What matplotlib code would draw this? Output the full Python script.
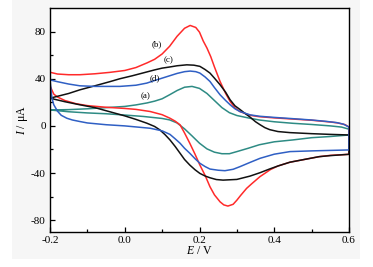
import matplotlib.pyplot as plt
from matplotlib.patches import Rectangle

# potential (V) and current (uA)
# each curve: forward scan -0.2 -> 0.6, then reverse scan 0.6 -> -0.2
E_a = [-0.2, -0.15, -0.1, -0.05, 0.0, 0.03, 0.06, 0.08, 0.1, 0.12, 0.14, 0.16, 0.18, 0.2, 0.22, 0.24,
       0.26, 0.28, 0.3, 0.33, 0.36, 0.4, 0.45, 0.5, 0.55, 0.58, 0.6,
       0.6, 0.55, 0.5, 0.45, 0.4, 0.36, 0.33, 0.3, 0.28, 0.26, 0.24, 0.22, 0.2, 0.18, 0.16, 0.14, 0.12,
       0.1, 0.05, 0.0, -0.05, -0.1, -0.15, -0.2]
I_a = [13.5, 13.8, 14.5, 15.5, 16.5, 17.8, 19.5, 21.0, 23.0, 26.4, 30.0, 32.8, 33.5, 31.8, 27.5, 21.5,
       15.5, 11.2, 8.8, 6.8, 5.0, 3.5, 2.2, 1.2, 0.0, -1.0, -2.8,
       -7.7, -9.0, -10.0, -11.9, -13.5, -16.0, -19.0, -21.8, -23.6, -23.6, -22.3, -19.5, -14.7, -8.5,
       -2.5, 2.5, 5.1, 6.3, 8.0, 9.2, 10.3, 11.0, 12.0, 13.5]

E_b = [-0.2, -0.18, -0.15, -0.12, -0.08, -0.04, 0.0, 0.03, 0.06, 0.08, 0.1, 0.12, 0.14, 0.16, 0.175,
       0.19, 0.2, 0.21, 0.22, 0.23, 0.24, 0.255, 0.27, 0.282, 0.295, 0.308, 0.335, 0.36, 0.4, 0.45, 0.5,
       0.55, 0.57, 0.59, 0.6,
       0.6, 0.55, 0.52, 0.48, 0.442, 0.41, 0.39, 0.362, 0.34, 0.326, 0.31, 0.3, 0.29, 0.276, 0.265, 0.255,
       0.24, 0.228, 0.215, 0.201, 0.188, 0.174, 0.16, 0.148, 0.135, 0.121, 0.1, 0.068, 0.03, 0.0, -0.05,
       -0.1, -0.13, -0.16, -0.18, -0.19, -0.2]
I_b = [45.5, 44.0, 43.4, 43.4, 44.2, 45.4, 47.0, 49.5, 53.5, 56.5, 61.0, 67.5, 76.0, 82.8, 85.2,
       83.5, 79.5, 72.0, 66.0, 58.8, 50.0, 37.7, 27.5, 20.7, 15.2, 12.2, 9.0, 7.8, 6.8, 5.8, 4.8,
       3.3, 2.5, 1.0, -1.0,
       -24.1, -25.0, -26.1, -28.5, -30.8, -34.0, -37.0, -43.0, -49.0, -53.0, -59.0, -63.0, -66.5, -68.0,
       -67.0, -64.4, -58.5, -51.6, -42.0, -33.2, -24.0, -14.7, -6.0, 0.9, 4.0, 6.5, 9.5, 12.2, 14.0,
       14.8, 15.8, 17.2, 18.8, 21.5, 24.5, 27.0, 34.0]

E_c = [-0.2, -0.15, -0.12, -0.08, -0.04, -0.013, 0.02, 0.05, 0.08, 0.1, 0.121, 0.14, 0.166, 0.185,
       0.201, 0.215, 0.228, 0.24, 0.255, 0.27, 0.282, 0.295, 0.308, 0.32, 0.335, 0.35, 0.362, 0.375,
       0.388, 0.41, 0.442, 0.5, 0.55, 0.6,
       0.6, 0.55, 0.52, 0.48, 0.442, 0.41, 0.388, 0.362, 0.335, 0.3, 0.263, 0.245, 0.228, 0.215, 0.201,
       0.188, 0.174, 0.16, 0.148, 0.135, 0.121, 0.108, 0.094, 0.08, 0.059, 0.03, 0.0, -0.04, -0.08,
       -0.12, -0.16, -0.2]
I_c = [23.5, 27.5, 30.6, 34.0, 37.5, 40.0, 42.5, 45.0, 47.5, 49.0, 50.0, 51.0, 51.8, 51.5,
       50.5, 47.8, 44.8, 40.5, 34.9, 28.5, 22.1, 17.0, 14.0, 11.0, 7.5, 3.5, 1.0, -1.5,
       -3.2, -4.8, -5.7, -6.6, -7.2, -7.7,
       -24.1, -25.2, -26.1, -28.5, -30.8, -34.0, -36.5, -39.7, -42.6, -45.4, -46.0, -45.5, -44.0, -42.5,
       -40.3, -37.2, -33.2, -28.5, -23.2, -17.5, -11.9, -7.5, -3.4, -0.5, 2.3, 5.5, 8.5, 12.0, 15.5,
       17.9, 20.5, 23.5]

E_d = [-0.2, -0.18, -0.15, -0.12, -0.08, -0.013, 0.03, 0.059, 0.08, 0.1, 0.12, 0.14, 0.16, 0.175,
       0.19, 0.201, 0.215, 0.228, 0.24, 0.255, 0.27, 0.282, 0.295, 0.308, 0.335, 0.36, 0.4, 0.442, 0.5,
       0.54, 0.567, 0.585, 0.6,
       0.6, 0.55, 0.5, 0.442, 0.4, 0.362, 0.335, 0.308, 0.29, 0.268, 0.25, 0.228, 0.215, 0.201, 0.188,
       0.174, 0.16, 0.148, 0.135, 0.121, 0.1, 0.068, 0.0, -0.05, -0.1, -0.12, -0.14, -0.155, -0.17,
       -0.18, -0.19, -0.195, -0.2]
I_d = [39.0, 37.5, 35.5, 34.0, 33.5, 33.5, 34.5, 36.3, 38.5, 40.5, 42.5, 44.5, 46.0, 46.5,
       46.0, 44.8, 41.5, 37.7, 32.5, 26.4, 21.5, 17.9, 14.5, 12.2, 9.4, 8.2, 7.2, 6.3, 5.0,
       3.8, 2.8, 1.5, -1.0,
       -20.4, -20.8, -21.2, -21.8, -24.0, -27.5, -31.0, -34.6, -36.8, -38.0, -37.6, -36.6, -34.5, -31.7,
       -27.8, -23.2, -19.0, -14.7, -11.0, -7.2, -4.2, -2.0, 0.0, 1.0, 2.5, 3.7, 5.0, 6.5, 9.0,
       12.5, 18.0, 24.0, 39.0]

curve_names = ['(a)', '(b)', '(c)', '(d)']
curve_colors = ['#2e8b84', '#ff2a2a', '#111111', '#2f5fc4']
# label anchor points (E, I) next to the anodic peaks
label_E = [0.057, 0.087, 0.117, 0.081]
label_I = [25.5, 69.0, 55.6, 40.6]

plt.rcParams['font.family'] = ['Liberation Serif', 'DejaVu Serif']
plt.rcParams['mathtext.fontset'] = 'custom'
plt.rcParams['mathtext.rm'] = 'Liberation Serif'
plt.rcParams['mathtext.it'] = 'Liberation Serif:italic'

fig = plt.figure(figsize=(3.73, 2.67), dpi=100)
fig.patch.set_facecolor('white')
fig.patches.append(Rectangle((12 / 373, 8 / 267), 348 / 373, 259 / 267, transform=fig.transFigure,
                             facecolor='#f6f6f6', edgecolor='none', zorder=-10))
ax = fig.add_axes([50 / 373, 1 - 232 / 267, 299 / 373, 224 / 267])
ax.set_facecolor('white')

for E, I, col in zip([E_a, E_b, E_c, E_d], [I_a, I_b, I_c, I_d], curve_colors):
    ax.plot(E, I, color=col, lw=1.1, solid_joinstyle='round')

for name, x, y in zip(curve_names, label_E, label_I):
    ax.text(x, y, name, fontsize=6.5, ha='center', va='center')

ax.set_xlim(-0.2, 0.6)
ax.set_ylim(-90, 100)
ax.set_xticks([-0.2, 0.0, 0.2, 0.4, 0.6])
ax.set_xticklabels(['-0.2', '0.0', '0.2', '0.4', '0.6'])
ax.set_xticks([-0.1, 0.1, 0.3, 0.5], minor=True)
ax.set_yticks([-80, -40, 0, 40, 80])
ax.set_yticklabels(['-80', '-40', '0', '40', '80'])
ax.set_yticks([-60, -20, 20, 60], minor=True)
ax.tick_params(which='both', direction='in', labelsize=8, pad=3, width=0.9)
ax.tick_params(which='major', length=3.5)
ax.tick_params(which='minor', length=2)
for sp in ax.spines.values():
    sp.set_linewidth(1.0)

ax.set_xlabel(r'$\it{E}$ / V', fontsize=8.5, labelpad=0)
ax.set_ylabel(r'$\it{I}$ / μA', fontsize=8.5, labelpad=1)

fig.savefig('out.png', dpi=100)
